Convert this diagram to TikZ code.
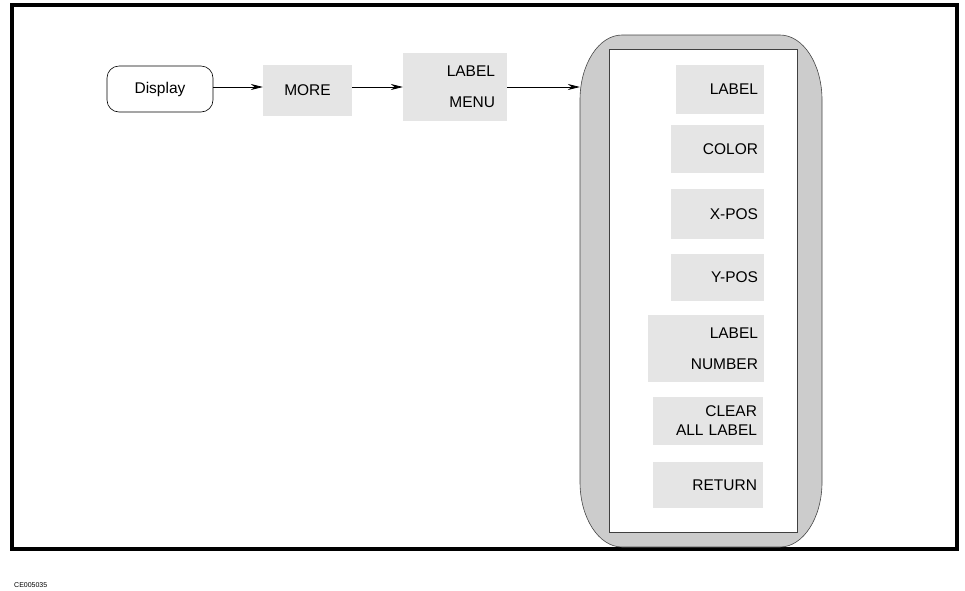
\documentclass[tikz,border=0pt]{standalone}
\usepackage{fontspec}
\setmainfont{Liberation Sans}
\usetikzlibrary{arrows.meta}
\begin{document}
\begin{tikzpicture}[x=1pt,y=-1pt,
  lbl/.style={font=\fontsize{15.5}{19}\selectfont},
  btn/.style={lbl,fill=gray!20,draw=none,inner xsep=6pt,inner ysep=0pt,align=right},
  arr/.style={-{Stealth[length=12pt,width=6pt]},line width=0.7pt}]
\useasboundingbox (0,0) rectangle (965,590);
\draw[line width=4pt] (12,5) rectangle (957,549);
% menu panel
\node[minimum width=242pt,minimum height=512pt,inner sep=0pt] (menu) at (701,291) {};
\filldraw[draw=gray!55!black,fill=gray!40,line width=0.6pt]
  (580,100) arc[start angle=180,end angle=270,x radius=42,y radius=65]
  -- (780,35) arc[start angle=270,end angle=360,x radius=42,y radius=65]
  -- (822,482) arc[start angle=0,end angle=90,x radius=42,y radius=65]
  -- (622,547) arc[start angle=90,end angle=180,x radius=42,y radius=65]
  -- cycle;
\node[draw=gray!50!black,fill=white,line width=1pt,
  minimum width=188pt,minimum height=483pt,inner sep=0pt] (inner) at (703,290.5) {};
% top row
\node[lbl,draw,rounded corners=12pt,line width=0.6pt,minimum width=106pt,minimum height=46pt,inner sep=0pt] (disp) at (160,89) {Display};
\node[btn,align=center,minimum width=89pt,minimum height=51pt] (more) at (307.5,90.5) {MORE};
\node[btn,text width=80pt,minimum height=68pt,inner xsep=12pt] (lm) at (455,87) {LABEL\\[12pt]MENU};
\draw[arr] (disp.east |- 0,87) -- (more.west |- 0,87);
\draw[arr] (more.east |- 0,87) -- (lm.west |- 0,87);
\draw[arr] (lm.east |- 0,87) -- (menu.west |- 0,87);
% buttons
\node[btn,text width=76pt,minimum height=49pt] (b1) at (720,89.5) {LABEL};
\node[btn,text width=81pt,minimum height=48pt] (b2) at (717.5,149) {COLOR};
\node[btn,text width=81pt,minimum height=50pt] (b3) at (717.5,214) {X-POS};
\node[btn,text width=81pt,minimum height=47pt] (b4) at (717.5,277.5) {Y-POS};
\node[btn,text width=104pt,minimum height=67pt] (b5) at (706,348.5) {LABEL\\[12pt]NUMBER};
\node[btn,text width=98pt,minimum height=48pt] (b6) at (708,421) {CLEAR\\ALL LABEL};
\node[btn,text width=98pt,minimum height=46pt] (b7) at (708,485) {RETURN};
\node[font=\fontsize{7}{8}\selectfont,anchor=west,inner sep=0pt] (code) at (14,585) {CE005035};
\end{tikzpicture}
\end{document}
